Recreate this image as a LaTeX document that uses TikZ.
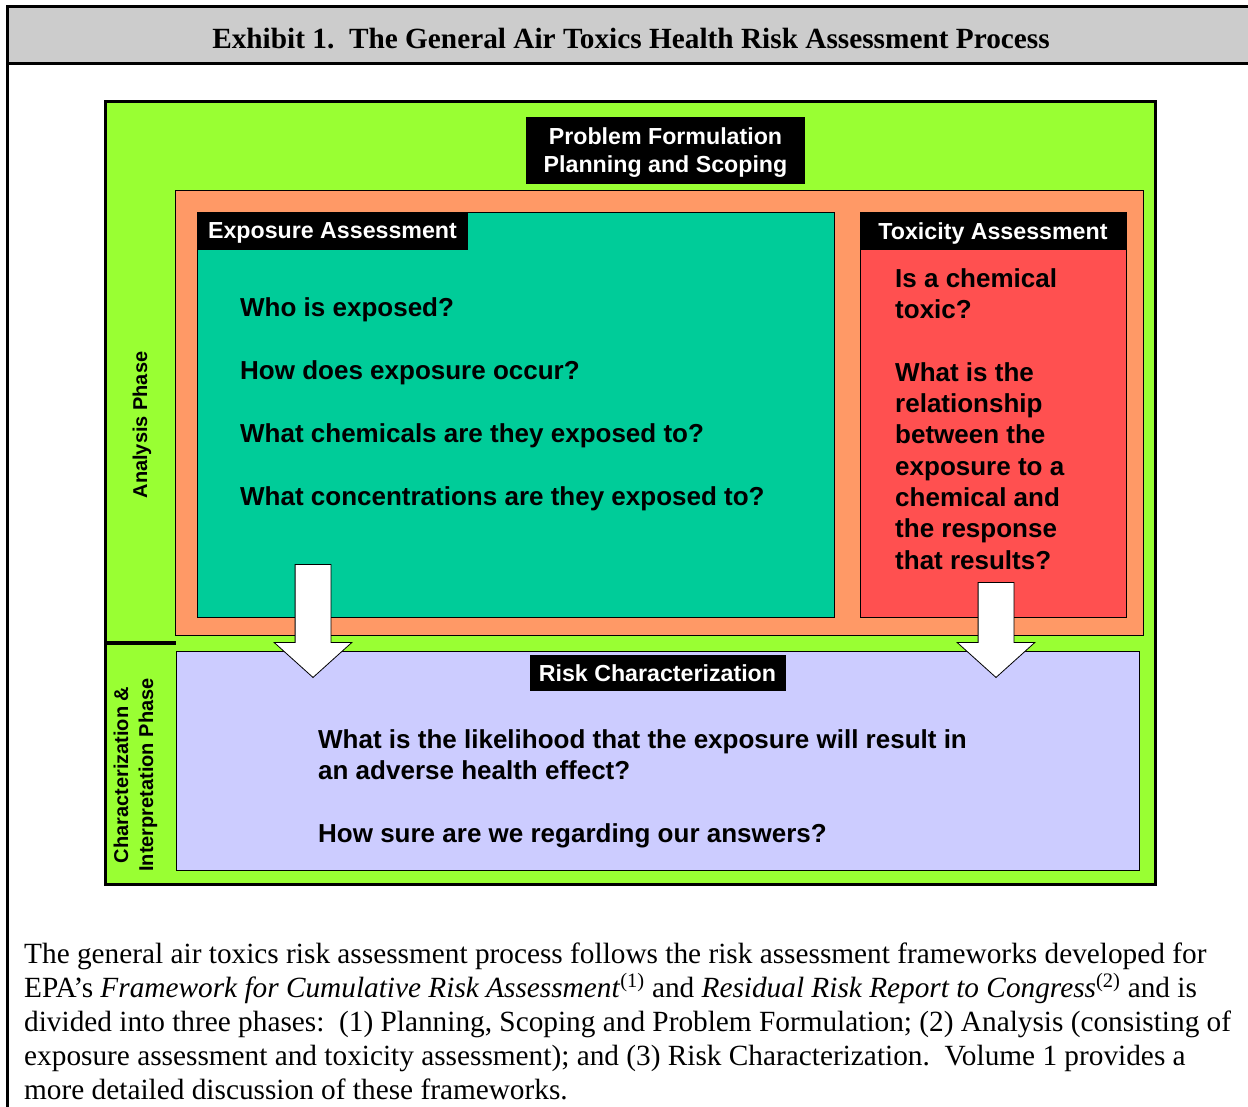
\documentclass[tikz,border=0pt]{standalone}
\usepackage{fontspec}
\setmainfont{Liberation Serif}
\setsansfont{Liberation Sans}
\usetikzlibrary{positioning,shapes.arrows}

\definecolor{leaf}{HTML}{99FF33}
\definecolor{salmon}{HTML}{FF9966}
\definecolor{jade}{HTML}{00CC99}
\definecolor{coral}{HTML}{FF5050}
\definecolor{lilac}{HTML}{CCCCFF}
\definecolor{band}{HTML}{CCCCCC}

\tikzset{
  panel/.style={draw, line width=0.8pt, inner sep=0pt, outer sep=0pt, anchor=north west},
  tag/.style={fill=black, text=white, inner sep=0pt, outer sep=0pt, align=center, text depth=0pt,
    font=\sffamily\bfseries\fontsize{23.2}{28}\selectfont},
  ask/.style={anchor=base west, align=left, inner sep=0pt,
    font=\sffamily\bfseries\fontsize{26}{31.3}\selectfont},
  phase/.style={rotate=90, align=center, inner sep=0pt,
    font=\sffamily\bfseries\fontsize{20}{25}\selectfont},
  down/.style={single arrow, draw, fill=white, line width=0.8pt, inner sep=17.5pt,
    shape border rotate=270, minimum width=77pt, single arrow head extend=21pt,
    single arrow tip angle=96, anchor=tip}
}

\begin{document}
\begin{tikzpicture}[x=1pt,y=-1pt]
   \useasboundingbox (0,0) rectangle (1248,1107);

   % frame and title band
   \fill[band] (7.5,6.5) rectangle (1250,63.5);
   \draw[line width=3pt] (1250,6.5) -| (7.5,1110);
   \draw[line width=3pt] (7.5,63.5) -- (1250,63.5);
   \node[anchor=base, inner sep=0pt, font=\bfseries\fontsize{29.3}{34}\selectfont] (title) at (631,49)
      {Exhibit 1.\ \ The General Air Toxics Health Risk Assessment Process};

   % panels
   \node[panel, fill=leaf, line width=3pt, minimum width=1050pt, minimum height=783pt] (green) at (105.5,101.5) {};
   \node[panel, fill=salmon, minimum width=967.5pt, minimum height=445pt] (orange) at (175.5,190) {};
   \node[panel, fill=jade, minimum width=637pt, minimum height=405pt] (expo) at (197,212) {};
   \node[panel, fill=coral, minimum width=266pt, minimum height=405pt] (tox) at (860,212) {};
   \node[panel, fill=lilac, minimum width=963pt, minimum height=219pt] (lav) at (176,651) {};
   \draw[line width=4pt] (105,643) -- (176,643);

   % headers
   \node[tag, anchor=north west, minimum width=279pt, minimum height=67pt] (prob) at (526,117)
      {Problem Formulation\\Planning and Scoping};
   \node[tag, anchor=north west, minimum width=271pt, minimum height=38pt] (exphead) at (expo.north west) {Exposure Assessment};
   \node[tag, anchor=north west, minimum width=266pt, minimum height=38pt] (toxhead) at (tox.north west) {Toxicity Assessment};
   \node[tag, below=4pt of lav.north, minimum width=256pt, minimum height=36pt] (riskhead) {Risk Characterization};

   % questions (base = last line)
   \node[ask, font=\sffamily\bfseries\fontsize{26}{63}\selectfont] (expq) at (240,505)
      {Who is exposed?\\How does exposure occur?\\What chemicals are they exposed to?\\What concentrations are they exposed to?};
   \node[ask] (toxq) at (895,569)
      {Is a chemical\\toxic?\\[31.3pt]What is the\\relationship\\between the\\exposure to a\\chemical and\\the response\\that results?};
   \node[ask] (riskq) at (318,842)
      {What is the likelihood that the exposure will result in\\an adverse health effect?\\[31.3pt]How sure are we regarding our answers?};

   % phase labels
   \node[phase] (analysis) at (142,425) {Analysis Phase};
   \node[phase] (charact) at (135.5,775) {Characterization \&\\Interpretation Phase};

   % block arrows
   \node[down, minimum height=113pt] (arrowA) at (313,678) {};
   \node[down, minimum height=95pt] (arrowB) at (996,678) {};

   % note
   \node[anchor=base west, align=left, inner sep=0pt, font=\fontsize{29.3}{34}\selectfont] (note) at (24,1099)
      {The general air toxics risk assessment process follows the risk assessment frameworks developed for\\
       EPA’s \textit{Framework for Cumulative Risk Assessment}\textsuperscript{(1)} and \textit{Residual Risk Report to Congress}\textsuperscript{(2)} and is\\
       divided into three phases:\ \ (1) Planning, Scoping and Problem Formulation; (2) Analysis (consisting of\\
       exposure assessment and toxicity assessment); and (3) Risk Characterization.\ \ Volume 1 provides a\\
       more detailed discussion of these frameworks.};
\end{tikzpicture}
\end{document}
